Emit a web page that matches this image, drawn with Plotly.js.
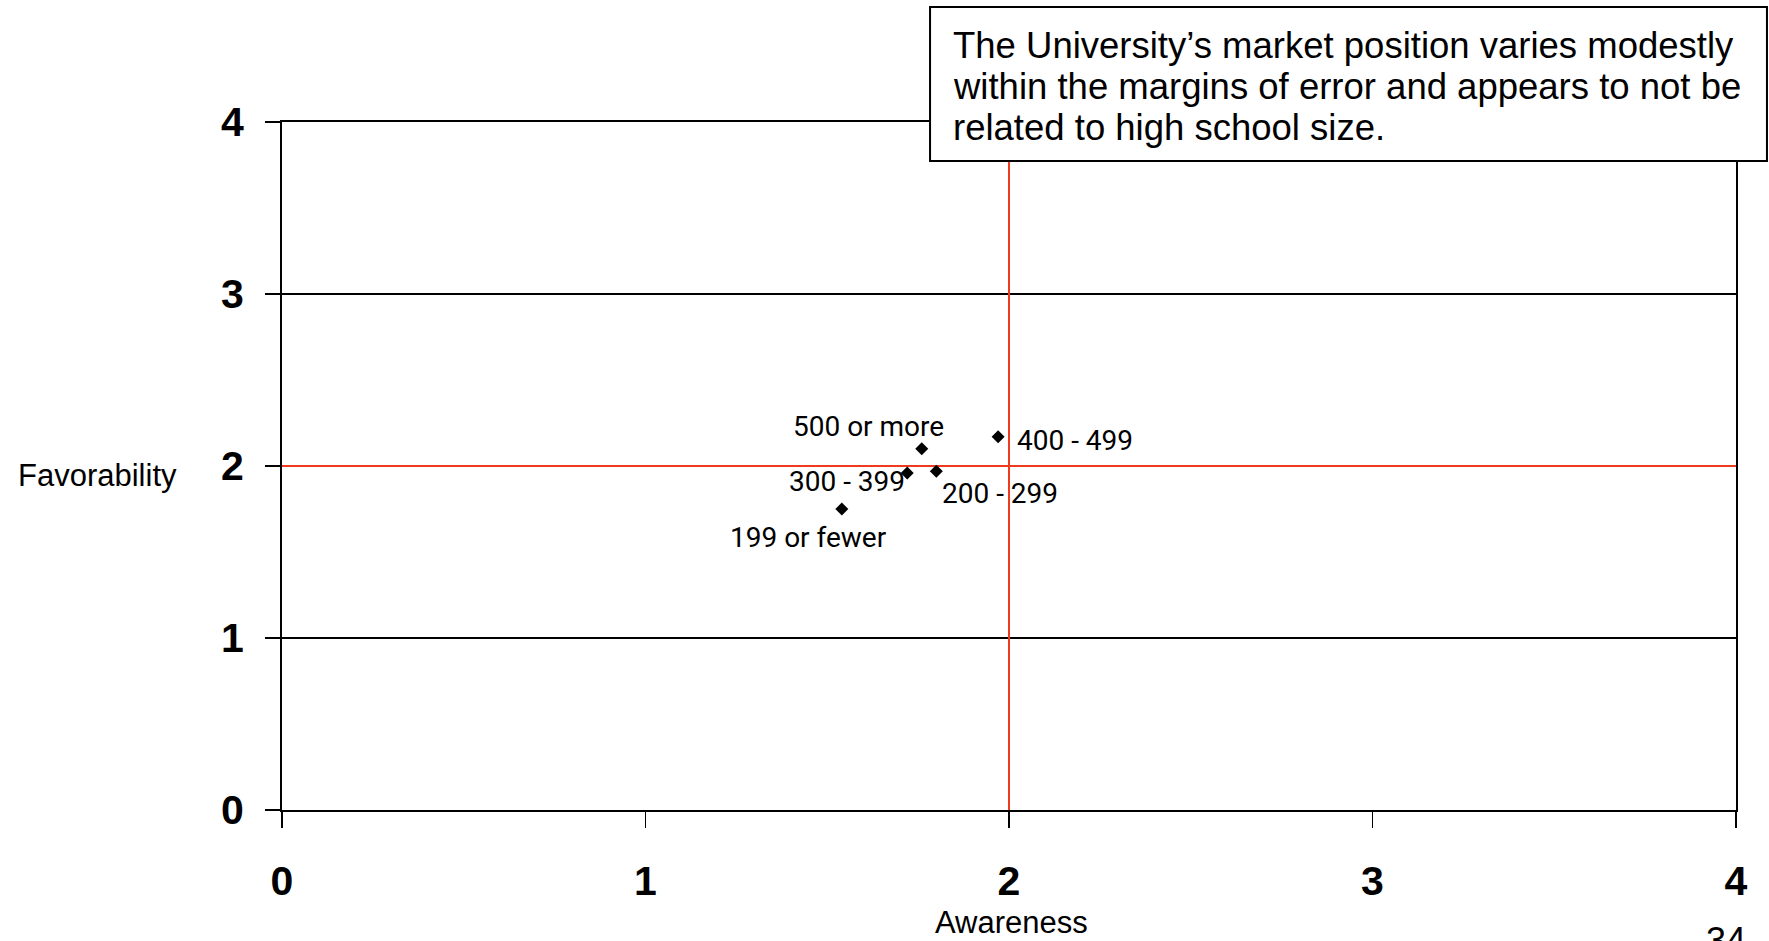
<!DOCTYPE html>
<html>
<head>
<meta charset="utf-8">
<script src="https://cdn.plot.ly/plotly-3.0.1.min.js"></script>
<style>
  html, body { margin: 0; padding: 0; background: #ffffff; }
  #chart { width: 1769px; height: 941px; }
</style>
</head>
<body>
<div id="chart"></div>
<script>
// ---- data ----
const schoolSizes = ['199 or fewer', '200 - 299', '300 - 399', '400 - 499', '500 or more'];
const awareness = [1.54, 1.80, 1.72, 1.97, 1.76];
const favorability = [1.75, 1.97, 1.96, 2.17, 2.10];
const tickValues = [0, 1, 2, 3, 4];
const tickLabels = ['0', '1', '2', '3', '4'];
const refAwareness = 2;
const refFavorability = 2;
const axisMax = 4;
const noteLines = [
  'The University\u2019s market position varies modestly',
  'within the margins of error and appears to not be',
  'related to high school size.'
];
const pageNumber = '34';

// label offsets (styling, px)
const labelShift = {
  '199 or fewer': [-33, -28],
  '200 - 299': [64, -22],
  '300 - 399': [-60, -9],
  '400 - 499': [77, -4],
  '500 or more': [-53, 22]
};

const red = '#f03a1e';

const traces = [
  {
    x: [refAwareness, refAwareness], y: [0, axisMax],
    mode: 'lines', line: {color: red, width: 2}, hoverinfo: 'skip', showlegend: false
  },
  {
    x: [0, axisMax], y: [refFavorability, refFavorability],
    mode: 'lines', line: {color: red, width: 2}, hoverinfo: 'skip', showlegend: false
  },
  {
    x: awareness, y: favorability, text: schoolSizes,
    mode: 'markers', type: 'scatter',
    marker: {symbol: 'diamond', size: 10, color: '#000000'},
    showlegend: false
  }
];

const annotations = schoolSizes.map((s, i) => ({
  x: awareness[i], y: favorability[i], xref: 'x', yref: 'y',
  text: s, showarrow: false,
  xshift: labelShift[s][0], yshift: labelShift[s][1],
  xanchor: 'center', yanchor: 'middle',
  font: {family: 'Roboto, sans-serif', size: 28, color: '#000000'}
}));

const lineYs = [1.1119, 1.0509, 0.9927];
noteLines.forEach((t, i) => annotations.push({
  x: 0.4601, y: lineYs[i], xref: 'paper', yref: 'paper',
  xanchor: 'left', yanchor: 'middle', showarrow: false, text: t,
  font: {family: 'Liberation Sans, Arial, sans-serif', size: 36.5, color: '#000000'}
}));

annotations.push({
  x: 0.502, y: -0.1642, xref: 'paper', yref: 'paper', xanchor: 'center', yanchor: 'middle',
  showarrow: false, text: 'Awareness',
  font: {family: 'Liberation Sans, Arial, sans-serif', size: 31, color: '#000000'}
});
annotations.push({
  x: -0.1272, y: 0.4869, xref: 'paper', yref: 'paper', xanchor: 'center', yanchor: 'middle',
  showarrow: false, text: 'Favorability',
  font: {family: 'Liberation Sans, Arial, sans-serif', size: 31, color: '#000000'}
});
annotations.push({
  x: 0.993, y: -0.157, xref: 'paper', yref: 'paper', xanchor: 'center', yanchor: 'top',
  showarrow: false, text: pageNumber,
  font: {family: 'Liberation Sans, Arial, sans-serif', size: 36, color: '#000000'}
});

const tickFont = {family: 'Liberation Sans, Arial, sans-serif', size: 41, color: '#000000', weight: 'bold'};

const layout = {
  width: 1769, height: 941,
  paper_bgcolor: '#ffffff', plot_bgcolor: '#ffffff',
  margin: {l: 282, r: 33, t: 122, b: 131, pad: 0},
  showlegend: false,
  xaxis: {
    range: [0, axisMax], tickvals: tickValues, ticktext: tickLabels,
    showgrid: false, zeroline: false,
    showline: true, linecolor: '#000000', linewidth: 2, mirror: true,
    ticks: 'outside', ticklen: 16, tickwidth: 1.5, tickcolor: '#000000',
    ticklabelstandoff: 18,
    tickfont: tickFont, automargin: false, fixedrange: true
  },
  yaxis: {
    range: [0, axisMax], tickvals: tickValues, ticktext: tickLabels,
    showgrid: true, gridcolor: '#000000', gridwidth: 1.2, zeroline: false,
    showline: true, linecolor: '#000000', linewidth: 2, mirror: true,
    ticks: 'outside', ticklen: 15, tickwidth: 1.5, tickcolor: '#000000',
    ticklabelstandoff: 13,
    tickfont: tickFont, automargin: false, fixedrange: true
  },
  shapes: [{
    type: 'rect', xref: 'paper', yref: 'paper', layer: 'above',
    x0: 0.4457, x1: 1.0213, y0: 0.9433, y1: 1.1672,
    line: {color: '#000000', width: 2}, fillcolor: '#ffffff'
  }],
  annotations: annotations
};

Plotly.newPlot('chart', traces, layout, {displayModeBar: false, staticPlot: true});
</script>
</body>
</html>
